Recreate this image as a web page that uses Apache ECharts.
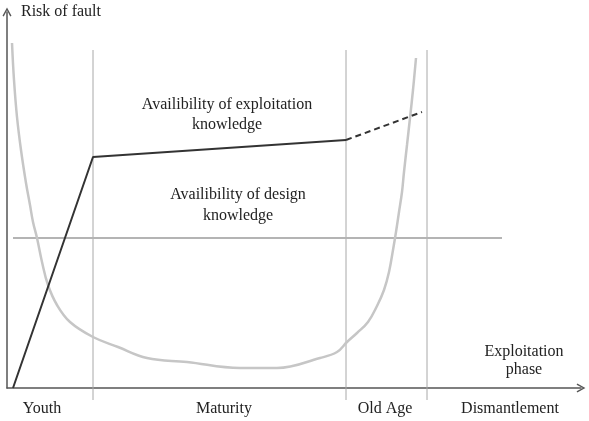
<!DOCTYPE html>
<html>
<head>
<meta charset="utf-8">
<script src="https://cdn.jsdelivr.net/npm/echarts@6/dist/echarts.min.js"></script>
<style>html,body{margin:0;padding:0;background:#fff}#c{width:589px;height:421px}</style>
</head>
<body>
<div id="c"></div>
<script>
// Schematic units: x = exploitation time, y = level
var riskCurve = [[5,345],[7,308],[10,271],[14,238],[19,205],[23,183],[26,166],[30,150],[35,126],[41,103],[50,83],[63,66],[86,51],[111,41],[140,30],[180,26],[233,20],[270,20],[313,30],[330,36],[340,46],[350,55],[361,66],[370,82],[377,98],[382,116],[386,138],[389,156],[392,176],[395,196],[397,216],[400,243],[403,270],[406,298],[409,330]];
var exploitationKnowledge = [[6,0],[86,231],[339,248]];
var exploitationForecast = [[339,248],[415,276]];
var designKnowledge = [[6,150],[495,150]];
var phaseBounds = [86, 339, 420];
var phaseLineRange = [-12, 338];
var phaseNames = ['Youth', 'Maturity', 'Old Age', 'Dismantlement'];
var phaseCenters = [35, 217, 378, 503];
var yAxisName = 'Risk of fault';
var xAxisName = 'Exploitation\nphase';
var exploitationLabel = 'Availibility of exploitation\nknowledge';
var designLabel = 'Availibility of design\nknowledge';

var FONT = '"Liberation Serif", "Times New Roman", serif';
var TXT = '#222';
var arrowPath = 'path://M5,0 L10,9 L8.6,9.8 L5,3 L1.4,9.8 L0,9 Z';

var series = [];
phaseBounds.forEach(function (b) {
  series.push({
    type: 'line', data: [[b, phaseLineRange[0]], [b, phaseLineRange[1]]],
    symbol: 'none', clip: false, silent: true,
    lineStyle: { color: '#a8a8a8', width: 1 }
  });
});
series.push({
  type: 'line', data: designKnowledge, symbol: 'none', silent: true,
  lineStyle: { color: '#b4b4b4', width: 2 }
});
series.push({
  type: 'line', data: riskCurve, symbol: 'none', smooth: 0.4, silent: true,
  lineStyle: { color: '#c6c6c6', width: 2.5 }
});
series.push({
  type: 'line', data: exploitationKnowledge, symbol: 'none', silent: true,
  lineStyle: { color: '#333', width: 2 }
});
series.push({
  type: 'line', data: exploitationForecast, symbol: 'none', silent: true,
  lineStyle: { color: '#333', width: 2, type: [6, 4] }
});

var chart = echarts.init(document.getElementById('c'), null, { renderer: 'canvas' });
chart.setOption({
  animation: false,
  backgroundColor: '#fff',
  grid: { left: 7, right: 8, top: 12, bottom: 33 },
  xAxis: {
    type: 'value', min: 0, max: 574,
    splitLine: { show: false },
    axisTick: { show: false },
    axisLine: { lineStyle: { color: '#555', width: 1.5 }, symbol: ['none', arrowPath], symbolSize: [9, 9] },
    axisLabel: {
      customValues: phaseCenters,
      margin: 13,
      fontFamily: FONT, fontSize: 16, color: TXT,
      formatter: function (v) {
        var i = phaseCenters.indexOf(v);
        return i >= 0 ? phaseNames[i] : '';
      }
    }
  },
  yAxis: {
    type: 'value', min: 0, max: 376,
    splitLine: { show: false },
    axisTick: { show: false },
    axisLabel: { show: false },
    axisLine: { show: true, lineStyle: { color: '#555', width: 1.5 }, symbol: ['none', arrowPath], symbolSize: [9, 9] }
  },
  graphic: [
    { type: 'text', x: 21, y: 12, style: { text: yAxisName, font: '16px ' + FONT, fill: TXT, textVerticalAlign: 'middle' } },
    { type: 'text', x: 524, y: 361, style: { text: xAxisName, font: '16px ' + FONT, fill: TXT, textAlign: 'center', textVerticalAlign: 'middle', lineHeight: 18 } },
    { type: 'text', x: 227, y: 115, style: { text: exploitationLabel, font: '16px ' + FONT, fill: TXT, textAlign: 'center', textVerticalAlign: 'middle', lineHeight: 20 } },
    { type: 'text', x: 238, y: 205, style: { text: designLabel, font: '16px ' + FONT, fill: TXT, textAlign: 'center', textVerticalAlign: 'middle', lineHeight: 21 } }
  ],
  series: series
});
</script>
</body>
</html>
